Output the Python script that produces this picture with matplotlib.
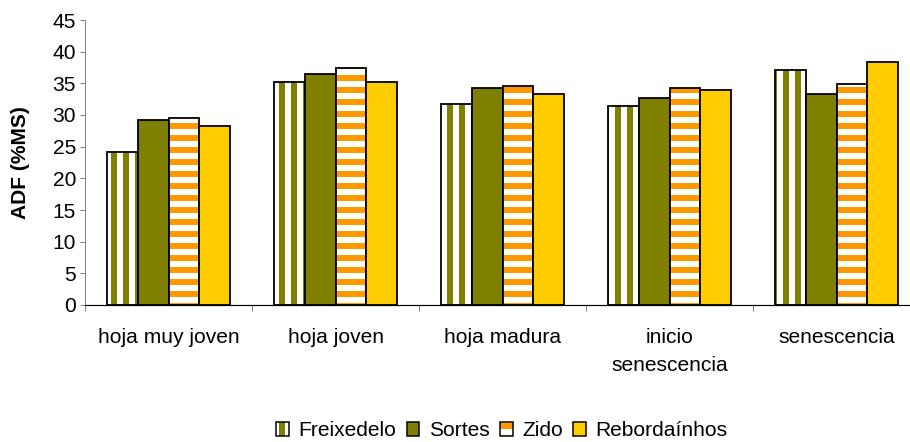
import matplotlib.pyplot as plt
import numpy as np
from matplotlib.patches import Patch

plt.rcParams['font.family'] = ['Liberation Sans', 'DejaVu Sans']
plt.rcParams['hatch.linewidth'] = 6

# ADF por estado de la hoja y localidad
estados = ['hoja muy joven', 'hoja joven', 'hoja madura', 'inicio\nsenescencia', 'senescencia']
freixedelo = [24.2, 35.2, 31.8, 31.4, 37.1]
sortes = [29.2, 36.4, 34.2, 32.7, 33.3]
zido = [29.5, 37.4, 34.6, 34.2, 34.9]
rebordainhos = [28.2, 35.2, 33.3, 33.9, 38.3]

series = [
    ('Freixedelo', freixedelo, 'white', '#808000', '|'),
    ('Sortes', sortes, '#808000', None, None),
    ('Zido', zido, 'white', '#FF9900', '-'),
    ('Rebordaínhos', rebordainhos, '#FFCC00', None, None),
]

fs = 21
fig = plt.figure(figsize=(910 / 72, 442 / 72), dpi=72)
ax = fig.add_axes([85 / 910, 1 - 305 / 442, 835 / 910, 285 / 442])

x = np.arange(len(estados))
w = 0.183
handles = []
for k, (nombre, vals, fondo, raya, hatch) in enumerate(series):
    pos = x + (k - 1.5) * w
    if hatch:
        # rayas gruesas primero, contorno negro encima
        ax.bar(pos, vals, w, color=fondo, edgecolor=raya, hatch=hatch, linewidth=0)
        ax.bar(pos, vals, w, color='none', edgecolor='black', linewidth=1.8)
        handles.append((Patch(facecolor=fondo, edgecolor=raya, hatch=hatch, linewidth=0),
                        Patch(facecolor='none', edgecolor='black', linewidth=1.5)))
    else:
        ax.bar(pos, vals, w, color=fondo, edgecolor='black', linewidth=1.8)
        handles.append(Patch(facecolor=fondo, edgecolor='black', linewidth=1.5))

ax.set_xlim(-0.5, len(estados) - 0.5)
ax.set_ylim(0, 45)
ax.set_yticks(range(0, 46, 5))
ax.set_xticks(np.arange(-0.5, len(estados), 1))
ax.set_xticklabels([])
ax.set_xticks(x, minor=True)
ax.set_xticklabels(estados, minor=True, linespacing=1.6)
ax.tick_params(axis='x', which='minor', length=0, pad=23, labelsize=fs)
ax.tick_params(axis='x', which='major', length=6, color='#666666')
ax.tick_params(axis='y', length=5, color='#666666', labelsize=fs, pad=4)
ax.spines['top'].set_visible(False)
ax.spines['right'].set_visible(False)
ax.spines['left'].set_color('#666666')
ax.spines['bottom'].set_color('black')
ax.spines['bottom'].set_linewidth(1.2)
ax.set_ylabel('ADF (%MS)', fontsize=fs, fontweight='bold', labelpad=22)

fig.legend(handles, [s[0] for s in series], loc='center', ncol=4,
           bbox_to_anchor=(502 / 910, 1 - 431 / 442), frameon=False,
           fontsize=fs, handlelength=0.6, handleheight=0.6,
           handletextpad=0.45, columnspacing=0.5, borderpad=0)

fig.savefig('out.png', dpi=72)
